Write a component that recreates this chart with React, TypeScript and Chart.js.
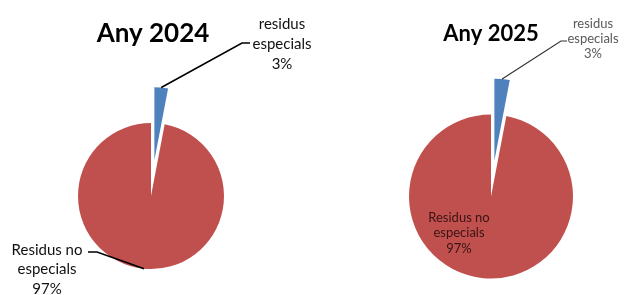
import React, { useEffect, useRef } from 'react';
import { Chart, registerables } from 'chart.js';

Chart.register(...registerables);

// ---- data ----
const categories = ['residus especials', 'Residus no especials'];
const labelLines = [
  ['residus', 'especials'],
  ['Residus no', 'especials'],
];
const years = ['Any 2024', 'Any 2025'];
const values2024 = [3, 97];
const values2025 = [3, 97];
const seriesValues = [values2024, values2025];
const sliceColors = ['#4F81BD', '#C0504D'];

// ---- layout / style (positions, not data) ----
const W = 629;
const H = 295;
const FONT = 'Lato, "Open Sans", "DejaVu Sans", sans-serif';

type LabelCfg = {
  x: number;
  y0: number;
  lh: number;
  size: number;
  color: string;
  knee?: [number, number];
  end?: [number, number];
  lineColor?: string;
  lineWidth?: number;
};

type PieCfg = {
  cx: number;
  cy: number;
  r: number;
  explode: number;
  title: { x: number; y: number; size: number };
  small: LabelCfg; // label of slice 0
  big: LabelCfg; // label of slice 1
};

const pies: PieCfg[] = [
  {
    cx: 151,
    cy: 196,
    r: 73,
    explode: 36,
    title: { x: 153, y: 42, size: 26 },
    small: { x: 282, y0: 24, lh: 20, size: 15, color: '#111111', knee: [242, 43], end: [250, 43], lineColor: '#000', lineWidth: 1.6 },
    big: { x: 47, y0: 250, lh: 19.5, size: 15, color: '#111111', knee: [97, 252], end: [88, 252], lineColor: '#000', lineWidth: 1.6 },
  },
  {
    cx: 491,
    cy: 196.5,
    r: 82,
    explode: 36,
    title: { x: 491, y: 41, size: 22 },
    small: { x: 593, y0: 24, lh: 15, size: 13, color: '#595959', knee: [561, 41], end: [567, 41], lineColor: '#333', lineWidth: 1.2 },
    big: { x: 459, y0: 217.5, lh: 15.5, size: 13, color: '#3a1414' },
  },
];

function paddingFor(cx: number, cy: number) {
  const pad = { left: 0, right: 0, top: 0, bottom: 0 };
  if (cx < W / 2) pad.right = W - 2 * cx;
  else pad.left = 2 * cx - W;
  if (cy < H / 2) pad.bottom = H - 2 * cy;
  else pad.top = 2 * cy - H;
  return pad;
}

function percentText(values: number[], i: number) {
  const sum = values.reduce((a, b) => a + b, 0);
  return Math.round((values[i] / sum) * 100) + '%';
}

function drawLabel(chart: any, index: number, cfg: LabelCfg, values: number[]) {
  const ctx: CanvasRenderingContext2D = chart.ctx;
  const el: any = chart.getDatasetMeta(0).data[index];
  if (!el) return;
  const { x, y, startAngle, endAngle, outerRadius } = el.getProps(
    ['x', 'y', 'startAngle', 'endAngle', 'outerRadius'],
    true
  );
  const mid = (startAngle + endAngle) / 2;
  const ax = x + Math.cos(mid) * outerRadius;
  const ay = y + Math.sin(mid) * outerRadius;
  ctx.save();
  if (cfg.knee && cfg.end) {
    ctx.strokeStyle = cfg.lineColor || '#000';
    ctx.lineWidth = cfg.lineWidth || 1;
    ctx.beginPath();
    ctx.moveTo(ax, ay);
    ctx.lineTo(cfg.knee[0], cfg.knee[1]);
    ctx.lineTo(cfg.end[0], cfg.end[1]);
    ctx.stroke();
  }
  const lines = [...labelLines[index], percentText(values, index)];
  ctx.font = `${cfg.size}px ${FONT}`;
  ctx.fillStyle = cfg.color;
  ctx.textAlign = 'center';
  ctx.textBaseline = 'middle';
  lines.forEach((l, i) => ctx.fillText(l, cfg.x, cfg.y0 + i * cfg.lh));
  ctx.restore();
}

function makeChart(
  canvas: HTMLCanvasElement,
  values: number[],
  visible: number,
  cx: number,
  cy: number,
  r: number,
  after: (chart: any) => void
) {
  const colors = sliceColors.map((c, i) => (i === visible ? c : 'rgba(0,0,0,0)'));
  return new Chart(canvas, {
    type: 'pie',
    data: {
      labels: categories,
      datasets: [
        {
          data: values,
          backgroundColor: colors,
          borderWidth: 0,
          clip: false as any,
        },
      ],
    },
    options: {
      responsive: false,
      animation: false,
      events: [],
      radius: r,
      layout: { padding: paddingFor(cx, cy) },
      plugins: {
        legend: { display: false },
        title: { display: false },
        tooltip: { enabled: false },
      },
    } as any,
    plugins: [
      {
        id: 'pieLabels',
        afterDatasetsDraw(chart: any) {
          after(chart);
        },
      },
    ],
  });
}

export default function App() {
  const canvasRefs = useRef<(HTMLCanvasElement | null)[]>([]);

  useEffect(() => {
    document.body.style.margin = '0';
    const charts: Chart[] = [];
    pies.forEach((p, k) => {
      const values = seriesValues[k];
      const sum = values.reduce((a, b) => a + b, 0);
      // direction of the exploded slice (slice 0), measured from 12 o'clock clockwise
      const midFrac = values[0] / sum / 2;
      const ang = midFrac * Math.PI * 2;
      const bx = p.cx + Math.sin(ang) * p.explode;
      const by = p.cy - Math.cos(ang) * p.explode;

      const redCanvas = canvasRefs.current[k * 2];
      const blueCanvas = canvasRefs.current[k * 2 + 1];
      if (!redCanvas || !blueCanvas) return;

      charts.push(
        makeChart(redCanvas, values, 1, p.cx, p.cy, p.r, (chart) => {
          const ctx: CanvasRenderingContext2D = chart.ctx;
          ctx.save();
          ctx.font = `bold ${p.title.size}px ${FONT}`;
          ctx.fillStyle = '#000';
          ctx.textAlign = 'center';
          ctx.textBaseline = 'alphabetic';
          ctx.fillText(years[k], p.title.x, p.title.y);
          ctx.restore();
          drawLabel(chart, 1, p.big, values);
        })
      );
      charts.push(
        makeChart(blueCanvas, values, 0, bx, by, p.r, (chart) => {
          drawLabel(chart, 0, p.small, values);
        })
      );
    });
    return () => charts.forEach((c) => c.destroy());
  }, []);

  return (
    <div style={{ position: 'relative', width: W, height: H, overflow: 'hidden', background: '#fff' }}>
      {[0, 1, 2, 3].map((i) => (
        <canvas
          key={i}
          ref={(el) => {
            canvasRefs.current[i] = el;
          }}
          width={W}
          height={H}
          style={{ position: 'absolute', left: 0, top: 0 }}
        />
      ))}
    </div>
  );
}
